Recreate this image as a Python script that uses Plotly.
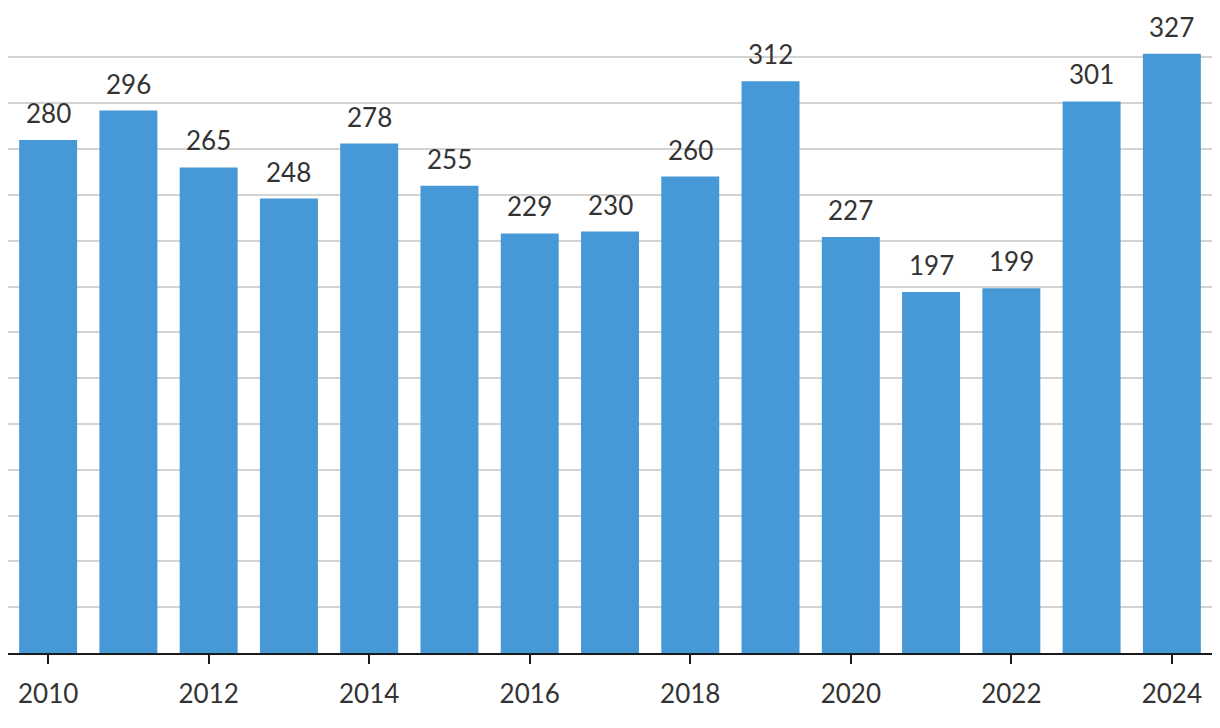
import plotly.graph_objects as go

years = list(range(2010, 2025))
values = [280, 296, 265, 248, 278, 255, 229, 230, 260, 312, 227, 197, 199, 301, 327]
tick_years = [2010, 2012, 2014, 2016, 2018, 2020, 2022, 2024]

FONT = "Lato"
TEXT = "#333333"

fig = go.Figure()
fig.add_trace(go.Bar(
    x=years, y=values,
    marker=dict(color="#4698D6", line=dict(width=0)),
    hoverinfo="skip",
))
for x, v in zip(years, values):
    fig.add_annotation(x=x, y=v, text=str(v), showarrow=False,
                       yanchor="bottom", yshift=9,
                       font=dict(family=FONT, size=26, color=TEXT))

fig.update_layout(
    width=1204, height=720,
    margin=dict(l=0, r=0, t=22, b=75),
    paper_bgcolor="white", plot_bgcolor="white",
    bargap=0.278,
    showlegend=False,
    xaxis=dict(range=[2009.5, 2024.5], tickvals=tick_years,
               ticktext=[str(t) for t in tick_years],
               showgrid=False, zeroline=False,
               showline=True, linecolor="#1a1a1a", linewidth=2,
               ticks="outside", ticklen=9, tickwidth=2, tickcolor="#1a1a1a",
               ticklabelstandoff=8,
               tickfont=dict(family=FONT, size=26, color=TEXT)),
    yaxis=dict(range=[0, 340], dtick=25, showticklabels=False,
               showgrid=True, gridcolor="#d3d3d3", gridwidth=1.5,
               zeroline=False, ticks=""),
)
fig.write_html("out.html")
